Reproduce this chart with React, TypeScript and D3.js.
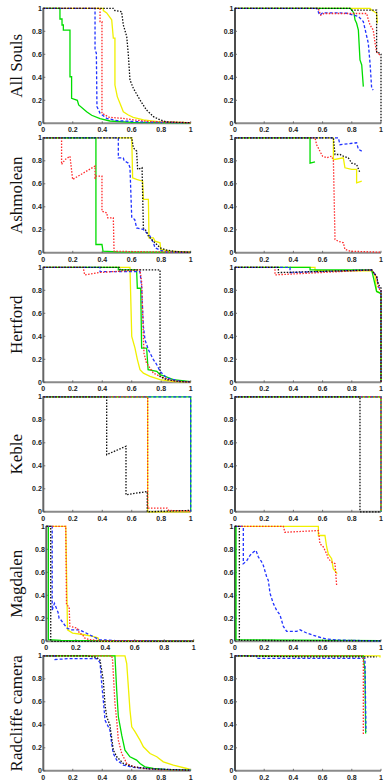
import React from "react";
import * as d3 from "d3";

type Pt = [number, number];
type Curve = Pt[];

// series order in every panel: green, blue, red, yellow, black
const seriesColors = ["#00dd00", "#2233ff", "#ff2a2a", "#f0f000", "#111111"];
const seriesDash = [null, "3 2", "1.5 1.5", null, "1.5 1.5"];
const drawOrder = [3, 0, 1, 2, 4];

const rowLabels = ["All Souls", "Ashmolean", "Hertford", "Keble", "Magdalen", "Radcliffe camera"];
const tickValues = [0, 0.2, 0.4, 0.6, 0.8, 1];
const tickLabels = ["0", "0.2", "0.4", "0.6", "0.8", "1"];

const allSoulsLeft: Curve[] = [
  [[0, 1], [0.113, 1], [0.113, 0.907], [0.127, 0.907], [0.127, 0.855], [0.136, 0.855], [0.136, 0.81], [0.181, 0.81], [0.181, 0.405], [0.192, 0.405], [0.192, 0.217], [0.231, 0.2], [0.24, 0.16], [0.294, 0.1], [0.328, 0.07], [0.385, 0.04], [0.452, 0.02], [0.6, 0.008], [1, 0.003]],
  [[0, 1], [0.351, 1], [0.351, 0.638], [0.36, 0.61], [0.364, 0.145], [0.385, 0.087], [0.43, 0.043], [0.5, 0.023], [0.7, 0.01], [1, 0.005]],
  [[0, 1], [0.385, 1], [0.385, 0.884], [0.398, 0.884], [0.398, 0.087], [0.448, 0.052], [0.54, 0.043], [0.611, 0.03], [0.72, 0.015], [1, 0.005]],
  [[0, 1], [0.407, 1], [0.407, 0.98], [0.43, 0.96], [0.464, 0.9], [0.475, 0.74], [0.486, 0.74], [0.486, 0.333], [0.502, 0.232], [0.52, 0.174], [0.543, 0.1], [0.577, 0.072], [0.61, 0.052], [0.68, 0.03], [0.79, 0.012], [1, 0.005]],
  [[0, 1], [0.475, 1], [0.486, 0.98], [0.531, 0.97], [0.543, 0.855], [0.566, 0.754], [0.577, 0.594], [0.588, 0.377], [0.611, 0.304], [0.656, 0.203], [0.7, 0.116], [0.747, 0.058], [0.792, 0.03], [0.837, 0.012], [1, 0.005]],
];
const allSoulsRight: Curve[] = [
  [[0, 1], [0.788, 1], [0.799, 0.986], [0.815, 0.957], [0.822, 0.9], [0.833, 0.87], [0.845, 0.81], [0.856, 0.551], [0.868, 0.507], [0.879, 0.319]],
  [[0, 1], [0.56, 1], [0.58, 0.94], [0.6, 0.96], [0.72, 0.96], [0.765, 0.957], [0.845, 0.93], [0.879, 0.884], [0.913, 0.696], [0.925, 0.522], [0.936, 0.304], [0.947, 0.29]],
  [[0, 1], [0.57, 1], [0.587, 0.94], [0.61, 0.955], [0.902, 0.955], [0.913, 0.9], [0.925, 0.855], [0.947, 0.81], [0.959, 0.7], [0.97, 0.62], [0.993, 0.594]],
  [[0, 1], [0.925, 1], [0.936, 0.985], [0.97, 0.957], [0.975, 0.87]],
  [[0, 1], [0.788, 1], [0.799, 0.985], [0.97, 0.985], [0.97, 0.62], [0.993, 0.61], [1, 0.6], [1, 0]],
];

const ashmoleanLeft: Curve[] = [
  [[0, 1], [0.357, 1], [0.357, 0.072], [0.398, 0.072], [0.405, 0.014], [0.5, 0.008], [1, 0.003]],
  [[0, 1], [0.509, 1], [0.509, 0.826], [0.543, 0.826], [0.548, 0.8], [0.577, 0.78], [0.588, 0.74], [0.6, 0.304], [0.62, 0.29], [0.633, 0.217], [0.679, 0.203], [0.7, 0.175], [0.724, 0.145], [0.747, 0.087], [0.758, 0.043], [0.792, 0.023], [0.837, 0.006], [1, 0.003]],
  [[0, 1], [0.124, 1], [0.124, 0.768], [0.147, 0.81], [0.181, 0.84], [0.199, 0.638], [0.351, 0.754], [0.351, 0.638], [0.355, 0.667], [0.398, 0.667], [0.398, 0.362], [0.43, 0.348], [0.437, 0.304], [0.475, 0.304], [0.48, 0.014], [0.6, 0.01], [1, 0.005]],
  [[0, 1], [0.6, 1], [0.606, 0.652], [0.633, 0.638], [0.674, 0.623], [0.679, 0.464], [0.713, 0.464], [0.717, 0.13], [0.747, 0.13], [0.758, 0.101], [0.792, 0.087], [0.796, 0.03], [0.86, 0.014], [1, 0.005]],
  [[0, 1], [0.6, 1], [0.611, 0.913], [0.633, 0.884], [0.64, 0.725], [0.67, 0.74], [0.679, 0.217], [0.7, 0.188], [0.713, 0.145], [0.747, 0.1], [0.77, 0.072], [0.792, 0.043], [0.837, 0.023], [0.905, 0.01], [1, 0.005]],
];
const ashmoleanRight: Curve[] = [
  [[0, 1], [0.514, 1], [0.514, 0.78], [0.548, 0.79]],
  [[0, 1], [0.708, 1], [0.719, 0.94], [0.833, 0.957], [0.845, 0.9], [0.868, 0.884]],
  [[0, 1], [0.548, 1], [0.559, 0.94], [0.587, 0.87], [0.6, 0.84], [0.628, 0.826], [0.662, 0.84], [0.674, 0.8], [0.685, 0.116], [0.708, 0.1], [0.742, 0.087], [0.753, 0.03], [0.788, 0.014], [1, 0.005]],
  [[0, 1], [0.674, 1], [0.674, 0.81], [0.742, 0.826], [0.753, 0.739], [0.799, 0.725], [0.833, 0.725], [0.833, 0.609], [0.868, 0.623]],
  [[0, 1], [0.674, 1], [0.685, 0.855], [0.719, 0.855], [0.742, 0.84], [0.776, 0.826], [0.799, 0.78], [0.833, 0.768], [0.856, 0.696]],
];

const hertfordLeft: Curve[] = [
  [[0, 1], [0.509, 1], [0.509, 0.977], [0.633, 0.977], [0.638, 0.818], [0.661, 0.818], [0.667, 0.298], [0.701, 0.298], [0.711, 0.11], [0.77, 0.095], [0.792, 0.066], [0.826, 0.052], [0.882, 0.023], [1, 0.005]],
  [[0, 1], [0.385, 1], [0.385, 0.962], [0.656, 0.962], [0.667, 0.832], [0.679, 0.485], [0.69, 0.37], [0.713, 0.283], [0.747, 0.197], [0.77, 0.153], [0.792, 0.095], [0.837, 0.038], [0.928, 0.01], [1, 0.003]],
  [[0, 1], [0.27, 1], [0.281, 0.934], [0.385, 0.955], [0.656, 0.977], [0.667, 0.876], [0.679, 0.4], [0.683, 0.254], [0.7, 0.168], [0.747, 0.08], [0.792, 0.052], [0.882, 0.01], [1, 0.003]],
  [[0, 1], [0.588, 1], [0.6, 0.4], [0.622, 0.298], [0.638, 0.2], [0.656, 0.11], [0.679, 0.08], [0.724, 0.052], [0.792, 0.023], [0.882, 0.006], [1, 0.003]],
  [[0, 1], [0.52, 1], [0.52, 0.977], [0.792, 0.977], [0.792, 0.05], [0.837, 0.023], [0.928, 0.006], [1, 0.003]],
];
const hertfordRight: Curve[] = [
  [[0, 1], [0.514, 1], [0.514, 0.977], [0.936, 0.977], [0.97, 0.79], [0.993, 0.775], [1, 0.77], [1, 0]],
  [[0, 1], [0.377, 1], [0.377, 0.954], [0.936, 0.977], [0.97, 0.92], [0.982, 0.83], [0.993, 0.815], [1, 0.81], [1, 0]],
  [[0, 1], [0.274, 1], [0.274, 0.934], [0.936, 0.977], [0.97, 0.92], [0.982, 0.83], [0.993, 0.8], [1, 0.8], [1, 0]],
  [[0, 1], [0.548, 1], [0.548, 0.97], [0.936, 0.97], [0.959, 0.93], [0.97, 0.79], [0.993, 0.78], [1, 0.78], [1, 0]],
  [[0, 1], [0.297, 1], [0.297, 0.954], [0.936, 0.977], [0.97, 0.92], [0.982, 0.85], [1, 0.82], [1, 0]],
];

const kebleLeft: Curve[] = [
  [[0, 1], [1, 1], [1, 0]],
  [[0, 1], [1, 1], [1, 0]],
  [[0, 1], [0.708, 1], [0.708, 0.032], [0.84, 0.032], [0.85, 0.012], [1, 0.006]],
  [[0, 1], [0.708, 1], [0.708, 0], [1, 0]],
  [[0, 1], [0.43, 1], [0.43, 0.497], [0.561, 0.57], [0.561, 0.148], [0.705, 0.177], [0.705, 0], [1, 0.012]],
];
const kebleRight: Curve[] = [
  [[0, 1], [1, 1], [1, 0]],
  [[0, 1], [1, 1], [1, 0]],
  [[0, 1], [1, 1], [1, 0]],
  [[0, 1], [1, 1], [1, 0]],
  [[0, 1], [0.856, 1], [0.856, 0], [1, 0]],
];

const magdalenLeft: Curve[] = [
  [[0, 1], [0.014, 1], [0.014, 0.014], [0.1, 0.008], [1, 0.003]],
  [[0, 1], [0.04, 1], [0.04, 0.27], [0.055, 0.33], [0.068, 0.29], [0.08, 0.25], [0.087, 0.2], [0.098, 0.187], [0.14, 0.115], [0.167, 0.1], [0.223, 0.1], [0.27, 0.072], [0.315, 0.043], [0.36, 0.014], [0.47, 0.006], [1, 0.003]],
  [[0, 1], [0.132, 1], [0.137, 0.316], [0.155, 0.3], [0.16, 0.13], [0.21, 0.115], [0.224, 0.072], [0.247, 0.057], [0.258, 0.03], [0.292, 0.014], [0.36, 0.006], [1, 0.003]],
  [[0, 1], [0.132, 1], [0.144, 0.1], [0.178, 0.072], [0.258, 0.057], [0.315, 0.043], [0.35, 0.03], [0.36, 0], [1, 0]],
  [[0, 1], [0.03, 1], [0.03, 0], [1, 0]],
];
const magdalenRight: Curve[] = [
  [[0, 1], [0.007, 1], [0.007, 0.014], [1, 0.005]],
  [[0, 1], [0.057, 1], [0.057, 0.675], [0.08, 0.7], [0.103, 0.747], [0.126, 0.776], [0.144, 0.79], [0.16, 0.733], [0.183, 0.69], [0.194, 0.66], [0.217, 0.56], [0.228, 0.53], [0.24, 0.417], [0.262, 0.33], [0.285, 0.27], [0.308, 0.23], [0.331, 0.13], [0.354, 0.086], [0.422, 0.086], [0.445, 0.1], [0.491, 0.072], [0.559, 0.043], [0.628, 0.02], [0.719, 0.01], [1, 0.003]],
  [[0, 1], [0.331, 1], [0.342, 0.948], [0.571, 0.963], [0.582, 0.848], [0.605, 0.82], [0.628, 0.76], [0.639, 0.718], [0.662, 0.69], [0.685, 0.675], [0.696, 0.489]],
  [[0, 1], [0.571, 1], [0.571, 0.92], [0.616, 0.92], [0.628, 0.82], [0.639, 0.76], [0.662, 0.718], [0.673, 0.632], [0.7, 0.589]],
  [[0, 1], [0.03, 1], [0.03, 0.008], [1, 0.003]],
];

const radcliffeLeft: Curve[] = [
  [[0, 1], [0.486, 1], [0.498, 0.7], [0.509, 0.472], [0.532, 0.31], [0.554, 0.18], [0.588, 0.122], [0.633, 0.093], [0.656, 0.064], [0.69, 0.035], [0.747, 0.02], [0.837, 0.01], [1, 0.005]],
  [[0, 1], [0.08, 1], [0.08, 0.968], [0.17, 0.975], [0.362, 0.975], [0.385, 0.94], [0.396, 0.76], [0.407, 0.614], [0.419, 0.44], [0.452, 0.354], [0.464, 0.237], [0.475, 0.15], [0.498, 0.093], [0.543, 0.05], [0.611, 0.03], [0.724, 0.017], [1, 0.005]],
  [[0, 1], [0.464, 1], [0.47, 0.962], [0.486, 0.586], [0.498, 0.44], [0.509, 0.267], [0.532, 0.15], [0.566, 0.064], [0.611, 0.035], [0.679, 0.02], [0.792, 0.01], [1, 0.003]],
  [[0, 1], [0.554, 1], [0.566, 0.933], [0.588, 0.528], [0.6, 0.383], [0.622, 0.34], [0.656, 0.267], [0.679, 0.209], [0.724, 0.15], [0.77, 0.122], [0.814, 0.078], [0.882, 0.05], [0.973, 0.02], [1, 0.01]],
  [[0, 1], [0.294, 1], [0.362, 0.986], [0.385, 0.962], [0.407, 0.788], [0.419, 0.571], [0.43, 0.47], [0.452, 0.397], [0.475, 0.18], [0.498, 0.122], [0.543, 0.064], [0.611, 0.035], [0.724, 0.017], [1, 0.005]],
];
const radcliffeRight: Curve[] = [
  [[0, 1], [0.879, 1], [0.879, 0.986], [0.89, 0.875], [0.895, 0.325]],
  [[0, 1], [0.148, 1], [0.148, 0.977], [0.89, 0.977], [0.897, 0.34]],
  [[0, 1], [0.868, 1], [0.879, 0.98], [0.879, 0.31]],
  [[0, 1], [0.993, 1], [0.993, 0.985]],
  [[0, 1], [0.5, 0.99], [0.97, 0.99]],
];

const panelRows: [Curve[], Curve[]][] = [
  [allSoulsLeft, allSoulsRight],
  [ashmoleanLeft, ashmoleanRight],
  [hertfordLeft, hertfordRight],
  [kebleLeft, kebleRight],
  [magdalenLeft, magdalenRight],
  [radcliffeLeft, radcliffeRight],
];

const width = 391;
const height = 784;
const rowTop = 8.3;
const rowStep = 129.5;
const panelH = 115;
const colX: [number, number][] = [
  [43.3, 190.7],
  [235, 381],
];

const Panel = ({ curves, x0, x1, y0, dark }: { curves: Curve[]; x0: number; x1: number; y0: number; dark: boolean }) => {
  const x = d3.scaleLinear().domain([0, 1]).range([x0, x1]);
  const y = d3.scaleLinear().domain([0, 1]).range([y0 + panelH, y0]);
  const line = d3
    .line<Pt>()
    .x((d) => x(d[0]))
    .y((d) => y(d[1]));
  const fontStyle = { fontFamily: "Liberation Sans, Arial, sans-serif", fontWeight: 700, fontSize: "7px" };
  return (
    <g>
      {/* axes */}
      <line x1={x0} x2={x1} y1={y(0)} y2={y(0)} stroke="#8a8a8a" strokeWidth={2} />
      <line x1={x0} x2={x0} y1={y(0)} y2={y(1) - 0.5} stroke={dark ? "#111" : "#666"} strokeWidth={dark ? 1.5 : 2} />
      {tickValues.map((t, i) => (
        <g key={"t" + i}>
          <line x1={x(t)} x2={x(t)} y1={y(0)} y2={y(0) - 2} stroke="#555" strokeWidth={0.8} />
          <line x1={x0} x2={x0 + 2} y1={y(t)} y2={y(t)} stroke="#555" strokeWidth={0.8} />
          <text x={x(t)} y={y(0) + 9} textAnchor="middle" fill="#222" style={fontStyle}>
            {tickLabels[i]}
          </text>
          <text x={x0 - 1.5} y={y(t) + 2.5} textAnchor="end" fill="#222" style={fontStyle}>
            {tickLabels[i]}
          </text>
        </g>
      ))}
      {drawOrder.map((s) => (
        <path
          key={s}
          d={line(curves[s]) ?? ""}
          fill="none"
          stroke={seriesColors[s]}
          strokeWidth={1.3}
          strokeDasharray={seriesDash[s] ?? undefined}
        />
      ))}
    </g>
  );
};

const App = () => {
  return (
    <svg width={width} height={height} style={{ position: "absolute", left: 0, top: 0, background: "#fff" }}>
      <rect width={width} height={height} fill="#fff" />
      {panelRows.map((row, r) => {
        const y0 = rowTop + r * rowStep;
        const shift = r === 4 ? 3 : 0;
        return (
          <g key={r}>
            <text
              transform={`translate(22,${y0 + panelH / 2}) rotate(-90)`}
              textAnchor="middle"
              fill="#111"
              style={{ fontFamily: "Liberation Serif, Times New Roman, serif", fontSize: "17px" }}
            >
              {rowLabels[r]}
            </text>
            <Panel curves={row[0]} x0={colX[0][0] + shift} x1={colX[0][1] + shift} y0={y0} dark={false} />
            <Panel curves={row[1]} x0={colX[1][0]} x1={colX[1][1]} y0={y0} dark={true} />
          </g>
        );
      })}
    </svg>
  );
};

export default App;
